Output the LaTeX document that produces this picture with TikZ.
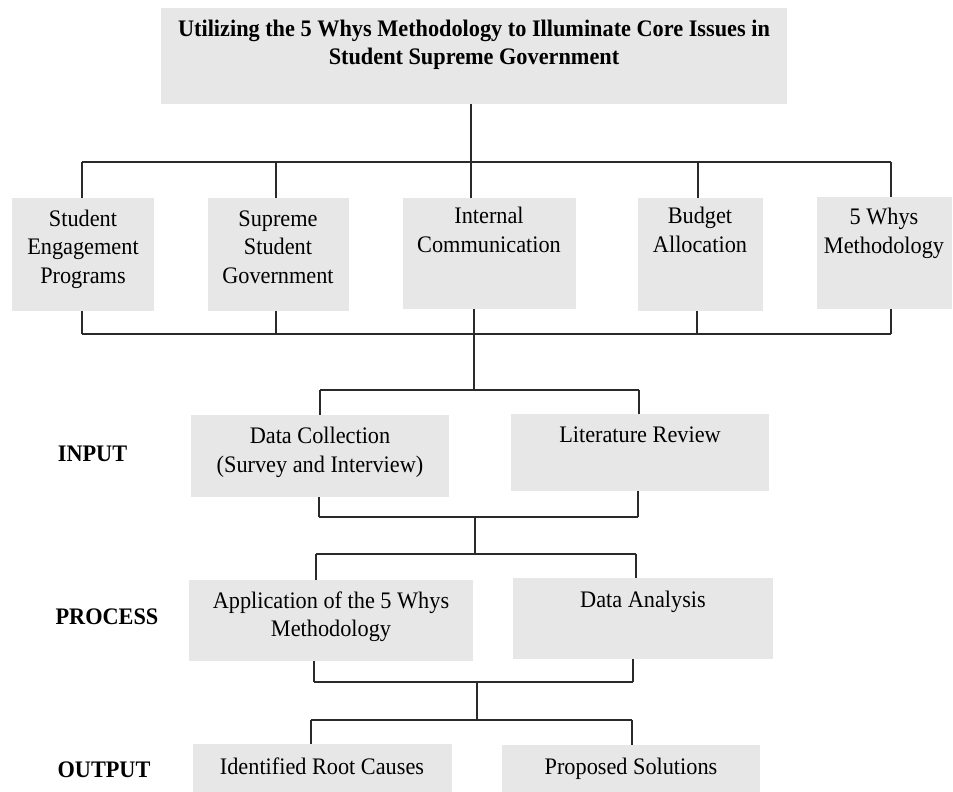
\documentclass[tikz,border=0pt]{standalone}
\usepackage{fontspec}
\setmainfont{Liberation Serif}[FakeStretch=0.94]
\begin{document}
\begin{tikzpicture}[x=1pt,y=-1pt,
  box/.style={draw=none,fill=boxgray,inner sep=0pt,outer sep=0pt},
  txt/.style={align=center,inner sep=0pt,font=\fontsize{23.7}{28.5}\selectfont},
  lbl/.style={inner sep=0pt,font=\fontsize{23.7}{28.5}\selectfont\bfseries},
  conn/.style={draw=linegray,line width=1.3pt}]
\definecolor{boxgray}{HTML}{E7E7E7}
\definecolor{linegray}{HTML}{2A2A2A}
\useasboundingbox (0,0) rectangle (953,792);
\fill[white] (0,0) rectangle (953,792);
% boxes: (left,top) rectangle (right,bottom)
\newcommand{\mybox}[5]{\node[box,minimum width={#4-#2},minimum height={#5-#3},anchor=north west] (#1) at (#2,#3) {};}
\mybox{title}{161}{8}{787}{104}
\mybox{b1}{12}{198}{154}{311}
\mybox{b2}{208}{198}{349}{311}
\mybox{b3}{403}{198}{576}{309}
\mybox{b4}{638}{198}{763}{311}
\mybox{b5}{817}{197}{952}{309}
\mybox{dc}{191}{415}{449}{497}
\mybox{lr}{511}{414}{769}{491}
\mybox{ap}{189}{580}{473}{661}
\mybox{da}{513}{578}{773}{659}
\mybox{ir}{193}{744}{452}{792}
\mybox{ps}{502}{745}{760}{792}
% texts
\node[txt,font=\fontsize{23.7}{28}\selectfont\bfseries] (titlet) at (474,45) {\strut Utilizing the 5 Whys Methodology to Illuminate Core Issues in\\Student Supreme Government\strut};
\node[txt] (b1t) at (83,249) {\strut Student\\Engagement\\Programs\strut};
\node[txt] (b2t) at (278,249) {\strut Supreme\\Student\\Government\strut};
\node[txt] (b3t) at (489,232.5) {\strut Internal\\Communication\strut};
\node[txt] (b4t) at (700,232.5) {\strut Budget\\Allocation\strut};
\node[txt] (b5t) at (884,233.5) {\strut 5 Whys\\Methodology\strut};
\node[txt] (dct) at (320,452.5) {\strut Data Collection\\(Survey and Interview)\strut};
\node[txt,anchor=base] (lrt) at (640,442) {Literature Review};
\node[txt] (apt) at (331,617) {\strut Application of the 5 Whys\\Methodology\strut};
\node[txt,anchor=base] (dat) at (643,607) {Data Analysis};
\node[txt,anchor=base] (irt) at (322,774) {Identified Root Causes};
\node[txt,anchor=base] (pst) at (631,774) {Proposed Solutions};
\node[lbl,anchor=base] (input) at (92.5,461) {INPUT};
\node[lbl,anchor=base] (process) at (107,624) {PROCESS};
\node[lbl,anchor=base] (output) at (104,777) {OUTPUT};
% junction coordinates
\coordinate (t0) at (471,162);
\coordinate (t1) at (82,162);
\coordinate (t2) at (276,162);
\coordinate (t3) at (471,162);
\coordinate (t4) at (698,162);
\coordinate (t5) at (891,162);
\coordinate (u1) at (82,334);
\coordinate (u2) at (276,334);
\coordinate (u3) at (474,334);
\coordinate (u4) at (697,334);
\coordinate (u5) at (891,334);
\coordinate (i0) at (474,390);
\coordinate (i1) at (320,390);
\coordinate (i2) at (639,390);
\coordinate (o1) at (319,517);
\coordinate (o2) at (638,517);
\coordinate (o0) at (475,517);
\coordinate (p0) at (475,554);
\coordinate (p1) at (316,554);
\coordinate (p2) at (636,554);
\coordinate (q1) at (314,682);
\coordinate (q2) at (633,682);
\coordinate (q0) at (477,682);
\coordinate (r0) at (477,720);
\coordinate (r1) at (311,720);
\coordinate (r2) at (632,720);
% connectors
\draw[conn] (title.south -| t0) -- (t0);
\draw[conn] (t1) -- (t5);
\foreach \j/\b in {t1/b1,t2/b2,t3/b3,t4/b4,t5/b5} \draw[conn] (\j) -- (\j |- \b.north);
\foreach \j/\b in {u1/b1,u2/b2,u3/b3,u4/b4,u5/b5} \draw[conn] (\j |- \b.south) -- (\j);
\draw[conn] (u1) -- (u5);
\draw[conn] (u3) -- (i0);
\draw[conn] (i1) -- (i2);
\draw[conn] (i1) -- (i1 |- dc.north);
\draw[conn] (i2) -- (i2 |- lr.north);
\draw[conn] (o1 |- dc.south) -- (o1);
\draw[conn] (o2 |- lr.south) -- (o2);
\draw[conn] (o1) -- (o2);
\draw[conn] (o0) -- (p0);
\draw[conn] (p1) -- (p2);
\draw[conn] (p1) -- (p1 |- ap.north);
\draw[conn] (p2) -- (p2 |- da.north);
\draw[conn] (q1 |- ap.south) -- (q1);
\draw[conn] (q2 |- da.south) -- (q2);
\draw[conn] (q1) -- (q2);
\draw[conn] (q0) -- (r0);
\draw[conn] (r1) -- (r2);
\draw[conn] (r1) -- (r1 |- ir.north);
\draw[conn] (r2) -- (r2 |- ps.north);
\end{tikzpicture}
\end{document}
